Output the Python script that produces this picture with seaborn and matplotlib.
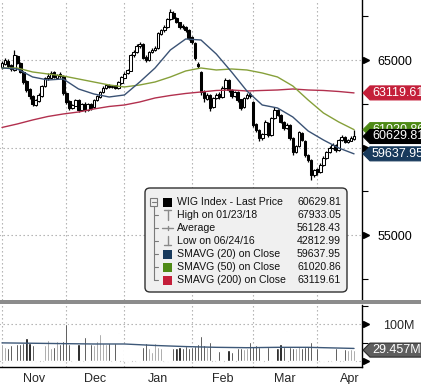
import matplotlib.pyplot as plt
import seaborn as sns
import pandas as pd
from matplotlib.patches import Polygon, FancyBboxPatch, Rectangle
from matplotlib.lines import Line2D
from matplotlib.transforms import blended_transform_factory, ScaledTranslation

# trading days shown (Warsaw exchange holidays removed)
holidays = ["2017-12-25", "2017-12-26", "2018-01-01", "2018-03-30", "2018-04-02"]
dates = pd.bdate_range("2017-11-02", "2018-04-19")
dates = dates[~dates.isin(pd.to_datetime(holidays))]

opens = [64600, 64800, 64950, 64700, 64450, 65250, 64850, 64300, 63800, 63350,
         62950, 62450, 62650, 62950, 63500, 63950, 64000, 64300, 64000, 64200,
         64100, 63100, 62650, 62250, 62400, 62700, 62150, 62500, 62150, 62500,
         62300, 62700, 62900, 63150, 63400, 63600, 63450, 63550, 63400, 63700,
         64000, 64250, 64400, 65300, 65450, 65800, 65900, 65150, 65000, 65450,
         65600, 65700, 66500, 66700, 66900, 67350, 67700, 67400, 67150, 66950,
         66900, 66700, 66300, 66000, 64800, 64300, 63200, 62800, 63000, 62300,
         62850, 63050, 62900, 63400, 63850, 63300, 62950, 63200, 62750, 62300,
         62850, 63050, 62600, 61350, 61000, 60550, 60800, 61400, 60700, 61700,
         62150, 61850, 61450, 61100, 61300, 60550, 59750, 60100, 60850, 60400,
         59550, 59300, 58450, 58750, 58600, 59000, 59400, 59750, 59950, 60150,
         59850, 60450, 60600, 60300, 60400, 60500]
highs = [64950, 65100, 65050, 64750, 65560, 65300, 64900, 64350, 63850, 63400,
         63000, 62800, 63100, 63600, 64050, 64250, 64400, 64350, 64200, 64300,
         64150, 63150, 62700, 62500, 62800, 62750, 62550, 62600, 62550, 62550,
         62750, 63000, 63250, 63500, 63650, 63650, 63600, 63600, 63800, 64100,
         64300, 64500, 65350, 65550, 65900, 66050, 65950, 65300, 65500, 65700,
         65800, 66600, 66800, 67000, 67400, 67933.05, 67800, 67450, 67200, 67050,
         66950, 66750, 66400, 66050, 64900, 64350, 63300, 63100, 63050, 62900,
         63100, 63150, 63500, 64000, 63900, 63350, 63250, 63250, 62800, 62900,
         63100, 63150, 62650, 61400, 61050, 60850, 61550, 61450, 61750, 62300,
         62200, 61900, 61500, 61400, 61350, 60600, 60150, 60950, 60900, 60450,
         59650, 59350, 58800, 58850, 59100, 59500, 59800, 60100, 60250, 60200,
         60500, 60700, 60650, 60500, 60650, 61000]
lows = [64500, 64700, 64550, 64350, 64400, 64750, 64250, 63650, 63150, 62800,
        62380, 62350, 62600, 62900, 63450, 63850, 63950, 63950, 63900, 63950,
        63000, 62500, 62150, 62200, 62350, 62050, 62100, 62050, 62100, 62150,
        62250, 62650, 62850, 63100, 63350, 63400, 63400, 63350, 63350, 63650,
        63950, 64200, 64350, 65200, 65400, 65700, 65050, 64900, 64950, 65400,
        65500, 65650, 66450, 66600, 66850, 67300, 67350, 67100, 66800, 66750,
        66600, 66150, 65900, 65000, 64550, 63000, 62600, 62700, 62100, 62250,
        62800, 62800, 62850, 63350, 63200, 62850, 62900, 62600, 62150, 62250,
        62800, 62850, 61200, 60900, 60400, 60450, 60750, 60600, 60650, 61650,
        61800, 61400, 61000, 61050, 60450, 59600, 59700, 60050, 60350, 59450,
        59150, 58150, 58300, 58450, 58550, 58950, 59350, 59700, 59900, 59750,
        59800, 60400, 60250, 60250, 60350, 60450]
closes = [64830, 65000, 64660, 64490, 65290, 64830, 64310, 63740, 63290, 62940,
          62490, 62710, 63000, 63510, 63970, 64090, 64260, 64030, 64140, 64090,
          63110, 62600, 62260, 62430, 62710, 62140, 62490, 62140, 62490, 62260,
          62710, 62940, 63170, 63400, 63570, 63460, 63510, 63400, 63740, 64030,
          64200, 64430, 65290, 65460, 65800, 65920, 65110, 65000, 65460, 65570,
          65690, 66540, 66710, 66890, 67340, 67740, 67400, 67170, 66890, 66890,
          66710, 66260, 66030, 65110, 64660, 63170, 62830, 63000, 62260, 62830,
          63000, 62890, 63400, 63860, 63290, 62940, 63170, 62710, 62260, 62830,
          63000, 62940, 61290, 61000, 60540, 60770, 61460, 60710, 61690, 62140,
          61860, 61460, 61110, 61290, 60540, 59740, 60090, 60890, 60430, 59570,
          59290, 58430, 58710, 58600, 59000, 59400, 59740, 59970, 60140, 59860,
          60430, 60600, 60320, 60430, 60540, 60629.81]
volumes_m = [45, 39, 36, 42, 58, 47, 45, 50, 61, 49, 43, 48, 36, 34, 42, 58, 36, 39, 55, 47,
             55, 100, 45, 36, 36, 47, 47, 66, 36, 47, 42, 53, 72, 49, 45, 50, 47, 49, 75, 50,
             42, 36, 58, 47, 47, 39, 39, 50, 34, 25, 49, 39, 36, 36, 36, 50, 36, 36, 38, 35,
             40, 36, 38, 40, 45, 68, 42, 38, 52, 35, 30, 28, 32, 30, 30, 25, 32, 35, 36, 33,
             35, 52, 40, 42, 38, 36, 34, 37, 38, 35, 36, 46, 38, 82, 38, 35, 36, 40, 36, 38,
             40, 52, 37, 36, 38, 34, 37, 35, 33, 36, 38, 34, 32, 30, 33, 29.457]

# moving averages read every 5th trading day
ma_step = 5
sma20 = [64544, 64487, 64030, 63859, 63916, 63345, 63059, 62887, 63002, 63745, 64544, 65573,
         66201, 66144, 65344, 64316, 63230, 62430, 62259, 61744, 60945, 60430, 59973, 59637.95]
sma50 = [64544, 64544, 64316, 64202, 64087, 63916, 63744, 63573, 63459, 63573, 63744, 64030,
         64373, 64544, 64430, 64487, 64430, 64259, 64030, 63516, 62716, 61973, 61459, 61020.86]
sma200 = [61145, 61345, 61573, 61773, 61916, 62030, 62202, 62345, 62430, 62602, 62830, 62973,
          63088, 63173, 63259, 63287, 63230, 63259, 63287, 63344, 63287, 63259, 63201, 63119.61]
vol_ma_days = [0, 10, 20, 30, 40, 50, 60, 70, 80, 90, 100, 110, 115]
vol_ma_m = [49, 48, 47, 46, 46, 42, 39, 37, 36, 37, 37, 35, 34]

legend_labels = ["WIG Index - Last Price", "High on 01/23/18", "Average", "Low on 06/24/16",
                 "SMAVG (20) on Close", "SMAVG (50) on Close", "SMAVG (200) on Close"]
legend_values = ["60629.81", "67933.05", "56128.43", "42812.99",
                 "59637.95", "61020.86", "63119.61"]

c20, c50, c200 = "#3a5274", "#86a03a", "#b2304e"
t20, t50, t200 = "#183a5c", "#4e8a16", "#c41f3a"

sns.set_style("white")
plt.rcParams["font.family"] = ["Liberation Sans", "DejaVu Sans"]

W, H = 421, 384
fig = plt.figure(figsize=(W / 100, H / 100), dpi=100)


def fx(px):
    return px / W


def fy(py):
    return 1 - py / H


ax = fig.add_axes([0, fy(300), fx(362), 300 / H])
vax = fig.add_axes([0, fy(367), fx(362), 62 / H])

n = len(closes)
days = list(range(n))
month_starts = [i for i in days if i == 0 or dates[i].month != dates[i - 1].month]
month_names = [dates[i].strftime("%b") for i in month_starts]
bounds = month_starts + [month_starts[-1] + 21]
month_mid = [(bounds[k] + bounds[k + 1]) / 2 for k in range(len(month_starts))]

grid_kw = dict(colors="#a8a8a8", linestyles=(0, (1.2, 2.4)), linewidth=0.8, zorder=1)
for a in (ax, vax):
    a.set_xlim(-0.65, 117.6)
ax.set_ylim(51286, 68429)
vax.set_ylim(-16.2, 151.4)

ax.vlines(month_starts, 51286, 68429, **grid_kw)
ax.hlines([55000, 60000, 65000], -1, 120, **grid_kw)
vax.vlines(month_starts, -16.2, 151.4, **grid_kw)
vax.hlines([0, 100], -1, 120, **grid_kw)

# candles
ax.vlines(days, lows, highs, color="black", linewidth=0.9, zorder=3)
for i in days:
    o, c = opens[i], closes[i]
    ax.bar(i, max(abs(c - o), 15), bottom=min(o, c), width=0.85,
           facecolor="white" if c >= o else "black", edgecolor="black",
           linewidth=0.75, zorder=3)

ma_days = list(range(0, n, ma_step))
sns.lineplot(x=ma_days, y=sma200, ax=ax, color=c200, linewidth=1.0, zorder=4)
sns.lineplot(x=ma_days, y=sma50, ax=ax, color=c50, linewidth=1.0, zorder=4)
sns.lineplot(x=ma_days, y=sma20, ax=ax, color=c20, linewidth=1.0, zorder=4)

# volume
for i in days:
    up = closes[i] >= opens[i]
    vax.bar(i, volumes_m[i], width=0.45 if up else 0.7,
            color="#7c7c7c" if up else "black", zorder=3)
sns.lineplot(x=vol_ma_days, y=vol_ma_m, ax=vax, color="#3d5878", linewidth=1.0, zorder=4)

# axes styling
for a in (ax, vax):
    a.spines[["top", "left"]].set_visible(False)
    a.spines["right"].set_linewidth(1.0)
    a.spines["right"].set_color("black")
    a.yaxis.tick_right()
ax.spines["bottom"].set_visible(False)
vax.spines["bottom"].set_color("black")
vax.spines["bottom"].set_linewidth(1.0)

ax.set_xticks([])
ax.set_yticks([55000, 60000, 65000])
ax.set_yticklabels(["55000", "", "65000"])
ax.set_yticks([52500, 57500, 62500, 67500], minor=True)
ax.tick_params(axis="y", which="major", length=0, pad=11, labelsize=9, labelcolor="black")
ax.tick_params(axis="y", which="minor", length=4, width=0.8, color="black", direction="out")

vax.set_yticks([0, 50, 100, 150])
vax.set_yticklabels(["", "", "100M", ""])
vax.tick_params(axis="y", which="major", length=4, width=0.8, color="black", pad=11,
                labelsize=9, direction="out")
vax.set_xticks(month_starts)
vax.set_xticklabels([])
vax.set_xticks(month_mid, minor=True)
vax.set_xticklabels(month_names, minor=True)
vax.tick_params(axis="x", which="major", length=5, width=0.8, color="black", direction="out")
vax.tick_params(axis="x", which="minor", length=0, pad=4.5, labelsize=9)

shift = ScaledTranslation(4 / 100, 0, fig.dpi_scale_trans)
for a, vals in ((ax, [55000, 60000, 65000]), (vax, [0, 100])):
    tr = blended_transform_factory(a.transAxes, a.transData) + shift
    for v in vals:
        a.plot([1.0], [v], marker=">", ms=5, color="black", transform=tr, clip_on=False)

# separator band
fig.add_artist(Rectangle((0, fy(304)), 1, 4 / H, transform=fig.transFigure,
                         facecolor="#8c8c8c", edgecolor="none"))


def tag(a, value, text, color, z, edge=None):
    yc = fig.transFigure.inverted().transform(a.transData.transform((0, value)))[1]
    h = 7 / H
    pts = [(fx(363), yc), (fx(370), yc + h), (fx(426), yc + h), (fx(426), yc - h), (fx(370), yc - h)]
    fig.add_artist(Polygon(pts, closed=True, transform=fig.transFigure, facecolor=color,
                           edgecolor=edge or color, linewidth=0.8, zorder=z))
    fig.text(fx(372), yc, text, color="white", ha="left", va="center", fontsize=9, zorder=z)


tag(ax, 61020.86, "61020.86", t50, 5)
tag(ax, 63119.61, "63119.61", t200, 6)
tag(ax, 60629.81, "60629.81", "black", 7)
tag(ax, 59637.95, "59637.95", t20, 8)
tag(vax, 29.457, "29.457M", "#5e5e5e", 9, edge="#2a2a2a")

# legend box
fig.add_artist(FancyBboxPatch((fx(145), fy(292)), fx(202), 104 / H, transform=fig.transFigure,
                              boxstyle="round,pad=0,rounding_size=0.012",
                              facecolor="#f0f0f0", edgecolor="#303030", linewidth=1.0, zorder=10))
row_y = [202, 215, 228, 241, 254, 267, 280]
tree = "#7a7a7a"
fig.add_artist(Rectangle((fx(150), fy(206)), fx(7), 8 / H, transform=fig.transFigure,
                         facecolor="none", edgecolor=tree, linewidth=0.8, zorder=11))
fig.add_artist(Line2D([fx(151.5), fx(155.5)], [fy(202), fy(202)], color=tree, lw=0.8,
                      transform=fig.transFigure, zorder=11))
fig.add_artist(Line2D([fx(153.5), fx(153.5)], [fy(206), fy(280)], color=tree, lw=0.8,
                      transform=fig.transFigure, zorder=11))
for yy in row_y[1:]:
    fig.add_artist(Line2D([fx(153.5), fx(158)], [fy(yy), fy(yy)], color=tree, lw=0.8,
                          transform=fig.transFigure, zorder=11))

swatches = {0: "black", 4: t20, 5: t50, 6: t200}
for k, yy in enumerate(row_y):
    if k in swatches:
        fig.add_artist(Rectangle((fx(163), fy(yy + 4.5)), fx(9), 9 / H, transform=fig.transFigure,
                                 facecolor=swatches[k], edgecolor="none", zorder=11))
    fig.text(fx(177), fy(yy), legend_labels[k], fontsize=7.6, ha="left", va="center",
             color="#111111", zorder=12)
    fig.text(fx(341), fy(yy), legend_values[k], fontsize=7.6, ha="right", va="center",
             color="#111111", zorder=12)

icon = "#8a8a8a"
segs = [([164, 171], [210, 210]), ([167.5, 167.5], [210, 220]),
        ([162, 173], [228, 228]), ([167.5, 167.5], [226, 230]),
        ([167.5, 167.5], [236, 245]), ([164, 171], [245, 245])]
for xs, ys in segs:
    fig.add_artist(Line2D([fx(v) for v in xs], [fy(v) for v in ys], color=icon, lw=1.0,
                          transform=fig.transFigure, zorder=11))

plt.savefig("out.png", dpi=100)
plt.close()
